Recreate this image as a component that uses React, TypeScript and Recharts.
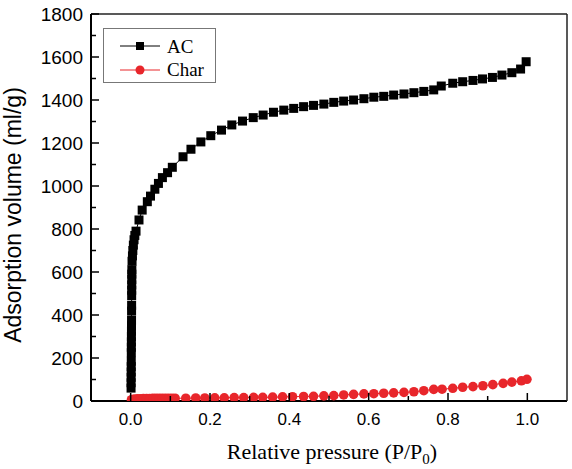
import { ScatterChart, Scatter, XAxis, YAxis } from 'recharts';

// AC isotherm
const AC_PRESSURE = [
  0.001, 0.0011, 0.0012, 0.0013, 0.0014, 0.0015,
  0.0016, 0.0017, 0.0018, 0.0019, 0.002, 0.0021, 0.0022,
  0.0023, 0.0024,
  0.0025, 0.0026, 0.0027, 0.0028, 0.0029, 0.003,
  0.0035, 0.0045, 0.0055, 0.0068, 0.0085, 0.0105, 0.0135,
  0.021, 0.029, 0.042, 0.05, 0.061, 0.07, 0.08, 0.093, 0.105,
  0.132, 0.152, 0.177, 0.202, 0.229, 0.255, 0.282, 0.309, 0.334, 0.36, 0.386,
  0.411, 0.436, 0.461, 0.487, 0.512, 0.537, 0.562, 0.588, 0.613, 0.638,
  0.663, 0.689, 0.714, 0.739, 0.764, 0.783, 0.812, 0.837, 0.863, 0.887,
  0.912, 0.936, 0.961, 0.983, 0.997,
];
const AC_VOLUME = [
  60, 85, 110, 135, 160, 185,
  225, 250, 275, 300, 325, 350, 375,
  418, 445,
  490, 515, 540, 565, 590, 610,
  650, 675, 700, 725, 750, 770, 790,
  842, 888, 927, 953, 985, 1012, 1039, 1062, 1087,
  1136, 1171, 1205, 1234, 1260, 1284, 1302, 1318, 1330, 1343, 1353,
  1361, 1369, 1375, 1381, 1389, 1395, 1400, 1406, 1413, 1417,
  1423, 1428, 1434, 1440, 1447, 1465, 1478, 1485, 1491, 1498,
  1505, 1516, 1527, 1544, 1578,
];

// Char isotherm
const CHAR_PRESSURE = [
  0.002, 0.006, 0.012, 0.018, 0.025, 0.032, 0.04, 0.048, 0.056, 0.064, 0.072, 0.08, 0.088, 0.096, 0.104, 0.112,
  0.139, 0.164, 0.187, 0.212, 0.236, 0.261, 0.285, 0.31, 0.333, 0.358,
  0.383, 0.408, 0.436, 0.461, 0.487, 0.512, 0.537, 0.562, 0.588, 0.613,
  0.638, 0.663, 0.689, 0.714, 0.739, 0.764, 0.785, 0.812, 0.837, 0.863,
  0.888, 0.913, 0.939, 0.961, 0.985, 0.999,
];
const CHAR_VOLUME = [
  6, 8, 9, 10, 10, 11, 11, 11, 12, 12, 12, 12, 13, 13, 13, 13,
  13, 14, 14, 15, 15, 16, 16, 17, 17, 18,
  19, 20, 21, 22, 24, 25, 28, 31, 33, 34,
  36, 38, 40, 43, 48, 54, 55, 59, 64, 67,
  71, 76, 82, 88, 94, 101,
];

const X_TICKS = [0, 0.1, 0.2, 0.3, 0.4, 0.5, 0.6, 0.7, 0.8, 0.9, 1.0];
const X_LABELS = ['0.0', '', '0.2', '', '0.4', '', '0.6', '', '0.8', '', '1.0'];
const Y_TICKS = [0, 100, 200, 300, 400, 500, 600, 700, 800, 900, 1000, 1100, 1200, 1300, 1400, 1500, 1600, 1700, 1800];
const Y_LABELS = ['0', '', '200', '', '400', '', '600', '', '800', '', '1000', '', '1200', '', '1400', '', '1600', '', '1800'];

const RED = '#e8262b';
const SANS = '"Liberation Sans", Arial, sans-serif';
const SERIF = '"Liberation Serif", "Times New Roman", serif';

const acData = AC_PRESSURE.map((p, i) => ({ p, v: AC_VOLUME[i] }));
const charData = CHAR_PRESSURE.map((p, i) => ({ p, v: CHAR_VOLUME[i] }));

const XTick = (props: any) => {
  const { x, y, payload } = props;
  const label = X_LABELS[X_TICKS.indexOf(payload.value)];
  return (
    <g>
      <line x1={x} x2={x} y1={y} y2={y - (label ? 8 : 5)} stroke="#000" strokeWidth={1.5} />
      {label && (
        <text x={x} y={y + 24} textAnchor="middle" fontSize={17} fontFamily={SANS} fill="#000">
          {label}
        </text>
      )}
    </g>
  );
};

const YTick = (props: any) => {
  const { x, y, payload } = props;
  const label = Y_LABELS[Y_TICKS.indexOf(payload.value)];
  return (
    <g>
      <line x1={x} x2={x + (label ? 8 : 5)} y1={y} y2={y} stroke="#000" strokeWidth={1.5} />
      {label && (
        <text x={x - 8} y={y + 7} textAnchor="end" fontSize={19} fontFamily={SANS} fill="#000">
          {label}
        </text>
      )}
    </g>
  );
};

const Square = (props: any) => (
  <rect x={props.cx - 4.5} y={props.cy - 4.5} width={9} height={9} fill="#000" />
);
const Dot = (props: any) => <circle cx={props.cx} cy={props.cy} r={4.8} fill={RED} />;

export default function App() {
  return (
    <div style={{ position: 'relative', width: 572, height: 469, background: '#fff' }}>
      <style>{'body{margin:0}'}</style>
      <ScatterChart width={572} height={469} margin={{ top: 13, right: 4, bottom: 67, left: 90 }}>
        <XAxis
          type="number"
          dataKey="p"
          domain={[-0.1, 1.1]}
          ticks={X_TICKS}
          interval={0}
          height={1}
          tickSize={0}
          tickMargin={0}
          tickLine={false}
          tick={<XTick />}
          axisLine={{ stroke: '#000', strokeWidth: 2 }}
          allowDataOverflow
        />
        <XAxis
          xAxisId="top"
          orientation="top"
          type="number"
          domain={[-0.1, 1.1]}
          height={1}
          tick={false}
          tickLine={false}
          axisLine={{ stroke: '#222', strokeWidth: 1.5 }}
        />
        <YAxis
          type="number"
          dataKey="v"
          domain={[0, 1800]}
          ticks={Y_TICKS}
          interval={0}
          width={1}
          tickSize={0}
          tickMargin={0}
          tickLine={false}
          tick={<YTick />}
          axisLine={{ stroke: '#000', strokeWidth: 2 }}
          allowDataOverflow
        />
        <YAxis
          yAxisId="right"
          orientation="right"
          type="number"
          domain={[0, 1800]}
          width={1}
          tick={false}
          tickLine={false}
          axisLine={{ stroke: '#222', strokeWidth: 1.5 }}
        />
        <Scatter
          name="AC"
          data={acData}
          line={{ stroke: '#000', strokeWidth: 1 }}
          lineType="joint"
          shape={Square}
          isAnimationActive={false}
        />
        <Scatter
          name="Char"
          data={charData}
          line={{ stroke: RED, strokeWidth: 1 }}
          lineType="joint"
          shape={Dot}
          isAnimationActive={false}
        />
      </ScatterChart>
      <svg
        width={572}
        height={469}
        style={{ position: 'absolute', left: 0, top: 0, pointerEvents: 'none' }}
      >
        <rect x={103.5} y={28.5} width={112} height={54} fill="#fff" stroke="#777" strokeWidth={1} />
        <line x1={120} x2={160} y1={46} y2={46} stroke="#000" strokeWidth={1} />
        <rect x={136} y={42} width={8} height={8} fill="#000" />
        <text x={167} y={53} fontSize={19} fontFamily={SERIF} fill="#000">AC</text>
        <line x1={120} x2={160} y1={70} y2={70} stroke={RED} strokeWidth={1} />
        <circle cx={140} cy={70} r={4.5} fill={RED} />
        <text x={167} y={76} fontSize={19} fontFamily={SERIF} fill="#000">Char</text>
        <text
          transform="translate(21,215) rotate(-90)"
          textAnchor="middle"
          fontSize={23}
          fontFamily={SANS}
          fill="#000"
        >
          Adsorption volume (ml/g)
        </text>
        <text x={332} y={459} textAnchor="middle" fontSize={22} fontFamily={SERIF} fill="#000">
          Relative pressure (P/P<tspan fontSize={15} dy={5}>0</tspan>
          <tspan dy={-5}>)</tspan>
        </text>
      </svg>
    </div>
  );
}
